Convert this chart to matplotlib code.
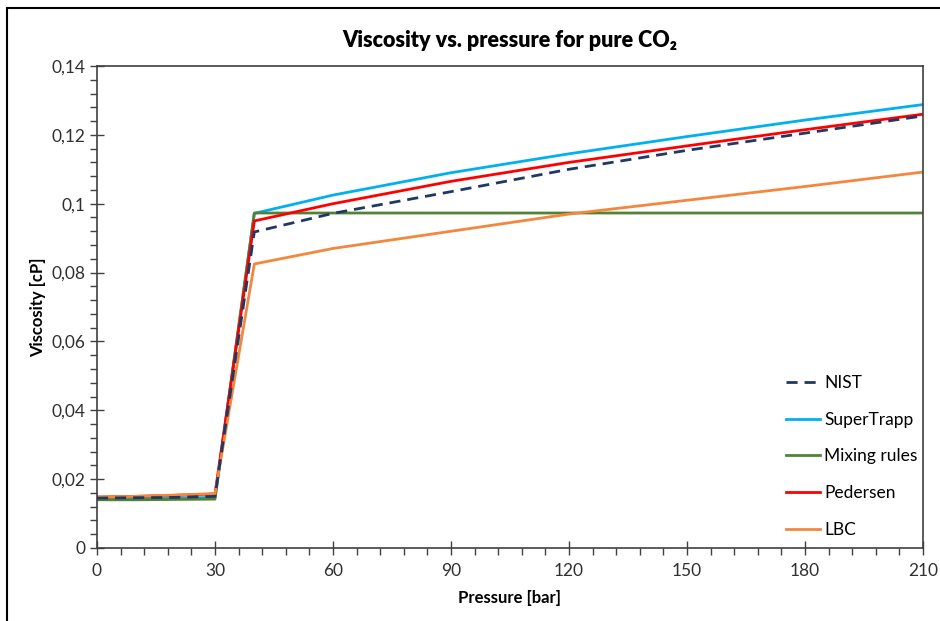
import matplotlib.pyplot as plt
from matplotlib.ticker import MultipleLocator, FuncFormatter
from matplotlib.patches import Rectangle

plt.rcParams['font.family'] = ['Lato', 'DejaVu Sans']

# pressure [bar]
pressure = [0, 10, 20, 30, 40, 60, 90, 120, 150, 180, 210]
# viscosity [cP]
nist = [0.0145, 0.0146, 0.0147, 0.0150, 0.0918, 0.0972, 0.1035, 0.1100, 0.1155, 0.1205, 0.1255]
supertrapp = [0.0143, 0.0144, 0.0145, 0.0147, 0.0972, 0.1025, 0.1090, 0.1145, 0.1195, 0.1243, 0.1288]
mixing = [0.0140, 0.0140, 0.0141, 0.0142, 0.0973, 0.0973, 0.0973, 0.0973, 0.0973, 0.0973, 0.0973]
pedersen = [0.0148, 0.0150, 0.0153, 0.0157, 0.0950, 0.1000, 0.1065, 0.1120, 0.1168, 0.1215, 0.1260]
lbc = [0.0148, 0.0150, 0.0154, 0.0158, 0.0825, 0.0870, 0.0920, 0.0970, 0.1010, 0.1050, 0.1092]

fig = plt.figure(figsize=(9.4, 6.21), dpi=100)
# outer chart border
fig.patches.append(Rectangle((7 / 940, -0.05), 1.2, (621 - 8) / 621 + 0.05,
                             transform=fig.transFigure, fill=False,
                             edgecolor='black', linewidth=1.5))
ax = fig.add_axes([97 / 940, 73 / 621, 826 / 940, 482 / 621])

ax.plot(pressure, nist, color='#1F3864', linestyle=(0, (4, 2.5)), linewidth=2, label='NIST', zorder=6)
ax.plot(pressure, supertrapp, color='#00B0F0', linewidth=2, label='SuperTrapp')
ax.plot(pressure, mixing, color='#548235', linewidth=2, label='Mixing rules')
ax.plot(pressure, pedersen, color='#FF0000', linewidth=2, label='Pedersen')
ax.plot(pressure, lbc, color='#F4873E', linewidth=2, label='LBC')

ax.set_xlim(0, 210)
ax.set_ylim(0, 0.14)
ax.xaxis.set_major_locator(MultipleLocator(30))
ax.xaxis.set_minor_locator(MultipleLocator(6))
ax.yaxis.set_major_locator(MultipleLocator(0.02))
ax.yaxis.set_minor_locator(MultipleLocator(0.004))
ax.yaxis.set_major_formatter(FuncFormatter(lambda v, p: ('%g' % round(v, 3)).replace('.', ',')))
ax.tick_params(which='major', direction='inout', length=10, width=1, labelsize=12.5, colors='#404040', labelcolor='#303030')
ax.tick_params(which='minor', direction='out', length=5, width=1, colors='#404040')
ax.tick_params(axis='x', pad=6)
for s in ax.spines.values():
    s.set_color('#404040')
    s.set_linewidth(1.2)

ax.set_title('Viscosity vs. pressure for pure CO\u2082', fontsize=15.5, fontweight='heavy', pad=14)
ax.set_xlabel('Pressure [bar]', fontsize=12, fontweight='bold', labelpad=8)
ax.set_ylabel('Viscosity [cP]', fontsize=12, fontweight='bold', labelpad=4)

ax.legend(loc='lower right', bbox_to_anchor=(1.012, -0.012), frameon=False, fontsize=12.5,
          labelspacing=1.2, handlelength=2.0, handletextpad=0.2)

fig.savefig('out.png', dpi=100)
